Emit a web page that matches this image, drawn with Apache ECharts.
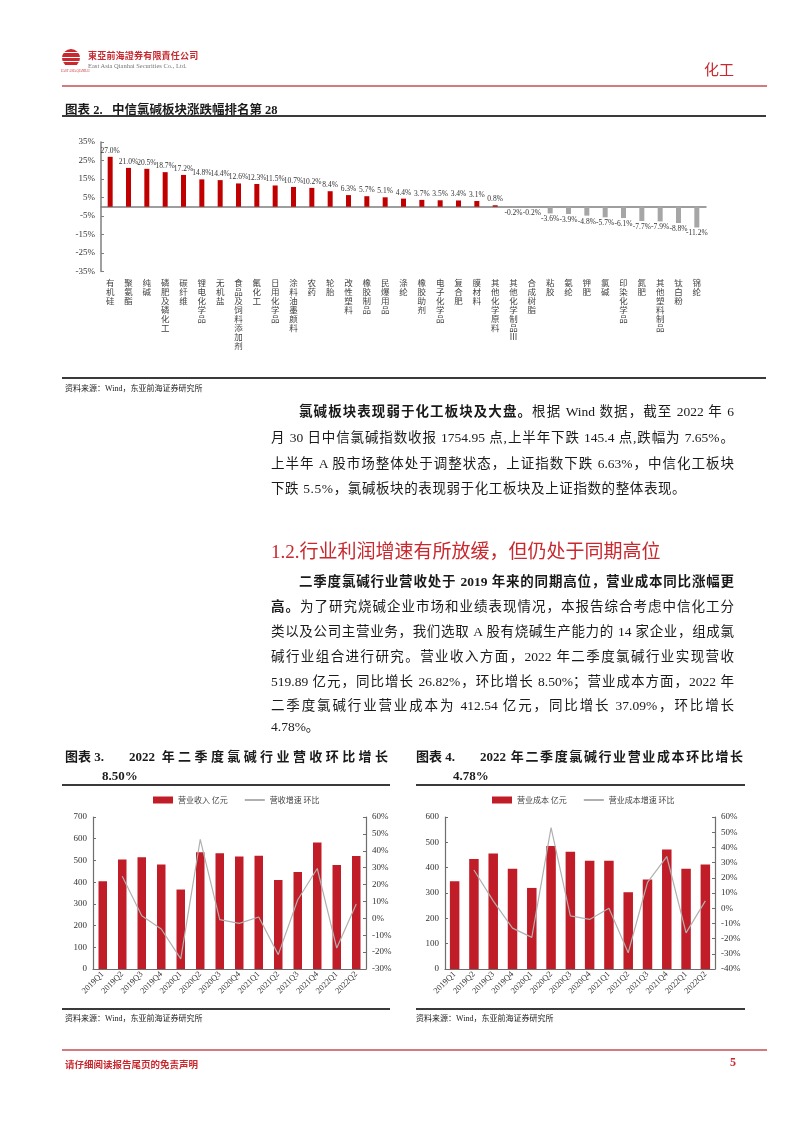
<!DOCTYPE html>
<html><head><meta charset="utf-8">
<script src="https://cdn.jsdelivr.net/npm/echarts@6/dist/echarts.min.js"></script>
<style>
body{margin:0;width:802px;height:1133px;background:#fff;position:relative;overflow:hidden;font-family:"Liberation Serif","Noto Sans CJK SC",serif;color:#1a1a1a}
#chart{position:absolute;left:0;top:0;width:802px;height:1133px;z-index:1}
.t{position:absolute;white-space:nowrap;z-index:2}
.rule{position:absolute;height:2px;background:#3a3a3a;z-index:2}
.jl{position:absolute;text-align:justify;text-align-last:justify;z-index:2;font-size:13.5px;height:20px;line-height:20px}
.ll{position:absolute;z-index:2;font-size:13.5px;height:20px;line-height:20px;white-space:nowrap}
.logo{position:absolute;left:62px;top:49px;width:18px;height:18px;border-radius:50%;background:repeating-linear-gradient(180deg,#c8282e 0 3px,#fff 3px 4.5px);z-index:2}
</style></head>
<body>
<div id="chart"></div>

<div class="logo"></div>
<div class="t" style="left:61px;top:69px;font-size:3px;color:#c8282e;">EAST ASIA QIANHAI</div>
<div class="t" style="left:88px;top:49px;font-size:9px;color:#c8282e;font-weight:bold;letter-spacing:0.2px">東亞前海證券有限責任公司</div>
<div class="t" style="left:88px;top:62px;font-size:6.5px;color:#777;">East Asia Qianhai Securities Co., Ltd.</div>
<div class="t" style="left:704px;top:58px;font-size:15px;color:#c8282e;">化工</div>
<div class="rule" style="left:62px;top:85px;width:705px;background:#d27a7f"></div>

<div class="t" style="left:65px;top:99px;font-size:12.5px;font-weight:bold;">图表 2.&nbsp;&nbsp;&nbsp;中信氯碱板块涨跌幅排名第 28</div>
<div class="rule" style="left:62px;top:115px;width:704px"></div>
<div class="rule" style="left:62px;top:377px;width:704px"></div>
<div class="t" style="left:65px;top:382px;font-size:8px;">资料来源：Wind，东亚前海证券研究所</div>

<div class="jl" style="left:299px;top:402px;width:435px"><b>氯碱板块表现弱于化工板块及大盘。</b>根据 Wind 数据，截至 2022 年 6</div>
<div class="jl" style="left:271px;top:428px;width:463px">月 30 日中信氯碱指数收报 1754.95 点,上半年下跌 145.4 点,跌幅为 7.65%。</div>
<div class="jl" style="left:271px;top:454px;width:463px">上半年 A 股市场整体处于调整状态，上证指数下跌 6.63%，中信化工板块</div>
<div class="ll" style="left:271px;top:479px;letter-spacing:0.6px">下跌 5.5%，氯碱板块的表现弱于化工板块及上证指数的整体表现。</div>

<div class="t" style="left:271px;top:536px;font-size:19px;color:#c8282e;">1.2.行业利润增速有所放缓，但仍处于同期高位</div>

<div class="jl" style="left:299px;top:572px;width:435px;font-weight:bold">二季度氯碱行业营收处于 2019 年来的同期高位，营业成本同比涨幅更</div>
<div class="jl" style="left:271px;top:597px;width:463px"><b>高。</b>为了研究烧碱企业市场和业绩表现情况，本报告综合考虑中信化工分</div>
<div class="jl" style="left:271px;top:622px;width:463px">类以及公司主营业务，我们选取 A 股有烧碱生产能力的 14 家企业，组成氯</div>
<div class="jl" style="left:271px;top:647px;width:463px">碱行业组合进行研究。营业收入方面，2022 年二季度氯碱行业实现营收</div>
<div class="jl" style="left:271px;top:672px;width:463px">519.89 亿元，同比增长 26.82%，环比增长 8.50%；营业成本方面，2022 年</div>
<div class="jl" style="left:271px;top:696px;width:463px">二季度氯碱行业营业成本为 412.54 亿元，同比增长 37.09%，环比增长</div>
<div class="ll" style="left:271px;top:717px;">4.78%。</div>

<div class="ll" style="left:65px;top:747px;font-size:13px;font-weight:bold">图表 3.</div>
<div class="jl" style="left:129px;top:747px;width:259px;font-size:13px;font-weight:bold">2022 年二季度氯碱行业营收环比增长</div>
<div class="ll" style="left:102px;top:766px;font-size:13px;font-weight:bold">8.50%</div>
<div class="rule" style="left:62px;top:784px;width:328px"></div>
<div class="ll" style="left:416px;top:747px;font-size:13px;font-weight:bold">图表 4.</div>
<div class="jl" style="left:480px;top:747px;width:263px;font-size:13px;font-weight:bold">2022 年二季度氯碱行业营业成本环比增长</div>
<div class="ll" style="left:453px;top:766px;font-size:13px;font-weight:bold">4.78%</div>
<div class="rule" style="left:416px;top:784px;width:329px"></div>

<div class="rule" style="left:62px;top:1008px;width:328px"></div>
<div class="rule" style="left:416px;top:1008px;width:329px"></div>
<div class="t" style="left:65px;top:1012px;font-size:8px;">资料来源：Wind，东亚前海证券研究所</div>
<div class="t" style="left:416px;top:1012px;font-size:8px;">资料来源：Wind，东亚前海证券研究所</div>

<div class="rule" style="left:62px;top:1049px;width:705px;background:#d27a7f"></div>
<div class="t" style="left:65px;top:1057px;font-size:9.5px;font-weight:bold;color:#c8282e;">请仔细阅读报告尾页的免责声明</div>
<div class="t" style="left:730px;top:1055px;font-size:12px;font-weight:bold;color:#c8282e;">5</div>

<script>
// ---- Chart 2 data ----
const sectors = ['有机硅','聚氨酯','纯碱','磷肥及磷化工','碳纤维','锂电化学品','无机盐','食品及饲料添加剂','氟化工','日用化学品','涂料油墨颜料','农药','轮胎','改性塑料','橡胶制品','民爆用品','涤纶','橡胶助剂','电子化学品','复合肥','膜材料','其他化学原料','其他化学制品Ⅲ','合成树脂','粘胶','氨纶','钾肥','氯碱','印染化学品','氮肥','其他塑料制品','钛白粉','锦纶'];
const sectorChange = [27.0,21.0,20.5,18.7,17.2,14.8,14.4,12.6,12.3,11.5,10.7,10.2,8.4,6.3,5.7,5.1,4.4,3.7,3.5,3.4,3.1,0.8,-0.2,-0.2,-3.6,-3.9,-4.8,-5.7,-6.1,-7.7,-7.9,-8.8,-11.2];
const changeTicks = ['-35%','-25%','-15%','-5%','5%','15%','25%','35%'];

// ---- Chart 3 / 4 data ----
const quarters = ['2019Q1','2019Q2','2019Q3','2019Q4','2020Q1','2020Q2','2020Q3','2020Q4','2021Q1','2021Q2','2021Q3','2021Q4','2022Q1','2022Q2'];
const revenue = [404,504,515,481,366,538,533,518,522,410,447,582,479,519.89];
const revenueQoQ = [null,24.9,1.5,-6.3,-24.0,46.8,-0.8,-3.0,0.8,-21.5,11.0,29.5,-17.6,8.5];
const cost = [346,434,456,396,320,486,463,427,427,303,353,472,396,412.54];
const costQoQ = [null,25.1,4.8,-13.1,-19.2,53.0,-5.0,-7.4,0.0,-29.3,17.0,34.0,-16.2,4.78];

const serif = 'Liberation Serif';
const cjk = 'Noto Sans CJK SC';
const axisGray = '#6e6e6e';
const barRed = '#c11d28';
const lineGray = '#b0b0b0';

const chart = echarts.init(document.getElementById('chart'), null, {renderer:'canvas'});

function quarterAxis(gridIndex){
  return {type:'category',gridIndex,data:quarters,
    axisLine:{lineStyle:{color:axisGray,width:1.2}},
    axisTick:{show:false},
    axisLabel:{rotate:45,fontSize:8.5,fontFamily:serif,color:'#333',margin:4,interval:0}};
}
function valAxis(gridIndex,min,max,pct,pos){
  return {type:'value',gridIndex,min,max,interval:10*(pct?1:10),position:pos,
    splitLine:{show:false},
    axisLine:{show:true,lineStyle:{color:axisGray,width:1.2}},
    axisTick:{show:true,inside:true,length:3,lineStyle:{color:axisGray}},
    axisLabel:{fontSize:9,fontFamily:serif,color:'#333',margin:6,formatter:pct?'{value}%':'{value}'}};
}

const option = {
  animation:false,
  grid:[
    {left:101,top:142,width:605,height:129.5},
    {left:93,top:817,width:273,height:152},
    {left:445,top:817,width:270,height:152}
  ],
  legend:[
    {left:148,top:791,itemWidth:20,itemHeight:7,itemGap:16,
     textStyle:{fontSize:8,fontFamily:cjk,color:'#444'},
     data:[{name:'营业收入 亿元',icon:'rect'},{name:'营收增速 环比',itemStyle:{opacity:0}}]},
    {left:487,top:791,itemWidth:20,itemHeight:7,itemGap:16,
     textStyle:{fontSize:8,fontFamily:cjk,color:'#444'},
     data:[{name:'营业成本 亿元',icon:'rect'},{name:'营业成本增速 环比',itemStyle:{opacity:0}}]}
  ],
  xAxis:[
    {type:'category',gridIndex:0,data:sectors,position:'bottom',
     axisLine:{show:false,onZero:false},axisTick:{show:false},
     axisLabel:{interval:0,margin:7,fontSize:8.5,lineHeight:9,fontFamily:cjk,color:'#444',
       formatter:s=>s.split('').join('\n')}},
    {type:'category',gridIndex:0,data:sectors,position:'top',
     axisLine:{show:true,onZero:true,lineStyle:{color:'#7f7f7f',width:1.5}},
     axisTick:{show:false},axisLabel:{show:false}},
    quarterAxis(1),
    quarterAxis(2)
  ],
  yAxis:[
    {type:'value',gridIndex:0,min:-35,max:35,interval:10,
     splitLine:{show:false},
     axisLine:{show:true,lineStyle:{color:'#7f7f7f',width:1.5}},
     axisTick:{show:true,inside:true,length:3,lineStyle:{color:'#7f7f7f'}},
     axisLabel:{fontSize:9,fontFamily:serif,color:'#333',margin:6,formatter:'{value}%'}},
    valAxis(1,0,700,false,'left'),
    valAxis(1,-30,60,true,'right'),
    valAxis(2,0,600,false,'left'),
    valAxis(2,-40,60,true,'right')
  ],
  series:[
    {type:'bar',xAxisIndex:0,yAxisIndex:0,barWidth:5,
     data:sectorChange.map(v=>v>=0?v:'-'),
     itemStyle:{color:'#c00000'},
     label:{show:true,position:'top',distance:2,fontSize:7.5,fontFamily:serif,color:'#333',formatter:p=>p.value.toFixed(1)+'%'}},
    {type:'bar',xAxisIndex:0,yAxisIndex:0,barWidth:5,barGap:'-100%',
     data:sectorChange.map(v=>v<0?v:'-'),
     itemStyle:{color:'#a6a6a6'},
     label:{show:true,position:'bottom',distance:2,fontSize:7.5,fontFamily:serif,color:'#333',formatter:p=>p.value.toFixed(1)+'%'}},
    {name:'营业收入 亿元',type:'bar',xAxisIndex:2,yAxisIndex:1,barWidth:8.5,data:revenue,itemStyle:{color:barRed}},
    {name:'营收增速 环比',type:'line',xAxisIndex:2,yAxisIndex:2,data:revenueQoQ,symbol:'none',
     lineStyle:{color:lineGray,width:1.2},itemStyle:{color:lineGray}},
    {name:'营业成本 亿元',type:'bar',xAxisIndex:3,yAxisIndex:3,barWidth:9.5,data:cost,itemStyle:{color:barRed}},
    {name:'营业成本增速 环比',type:'line',xAxisIndex:3,yAxisIndex:4,data:costQoQ,symbol:'none',
     lineStyle:{color:lineGray,width:1.2},itemStyle:{color:lineGray}}
  ]
};
chart.setOption(option);
</script>
</body></html>
